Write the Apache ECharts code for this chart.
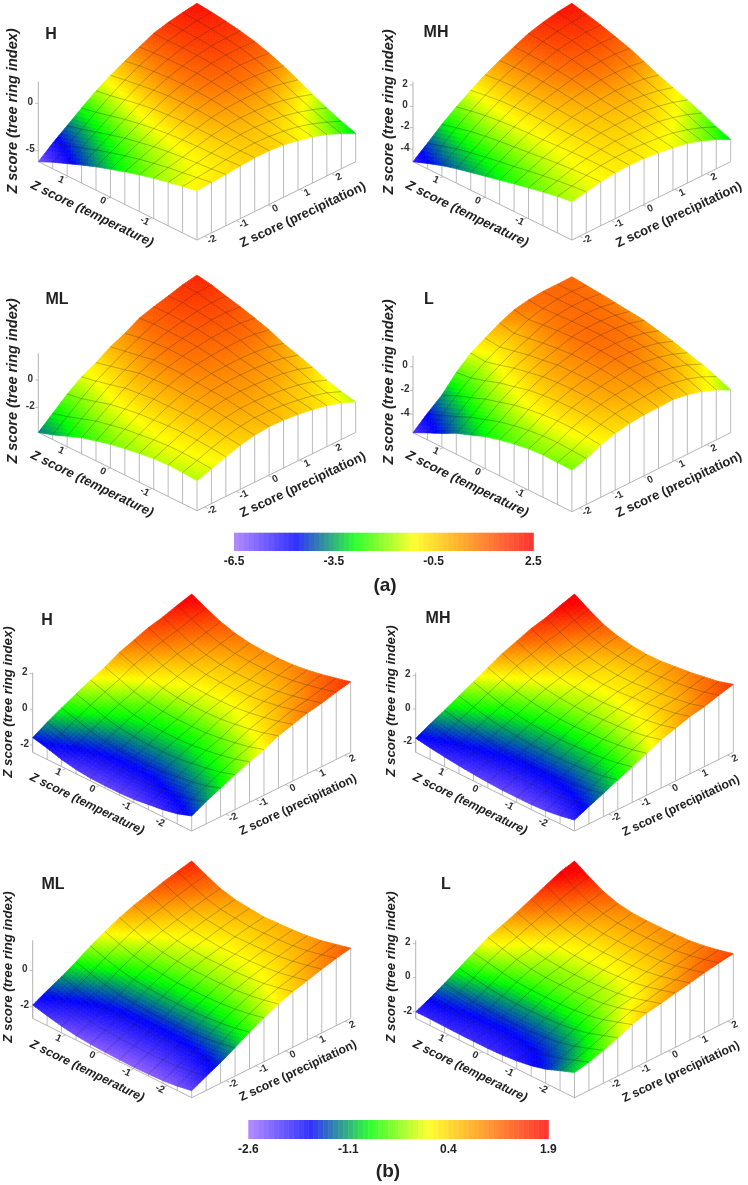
<!DOCTYPE html>
<html><head><meta charset="utf-8">
<style>html,body{margin:0;padding:0;background:#fff}#c{width:748px;height:1185px}</style>
<script src="https://cdn.jsdelivr.net/npm/echarts@6/dist/echarts.min.js"></script>
</head><body><div id="c"></div>
<script>
// Surface heights. Row = temperature step (front -> back), column = precipitation step (front -> right).
const zA_H=[
[-0.95,-0.84,-0.74,-0.60,-0.49,-0.49,-0.63,-0.91,-1.27,-1.79,-2.43,-3.17],
[-1.27,-1.08,-0.91,-0.69,-0.50,-0.42,-0.49,-0.69,-0.97,-1.41,-1.98,-2.64],
[-1.58,-1.31,-1.04,-0.74,-0.47,-0.30,-0.28,-0.39,-0.59,-0.95,-1.42,-2.00],
[-1.90,-1.53,-1.18,-0.78,-0.41,-0.16,-0.04,-0.07,-0.17,-0.43,-0.82,-1.30],
[-2.29,-1.82,-1.36,-0.85,-0.38,-0.02,0.20,0.28,0.28,0.13,-0.15,-0.53],
[-2.71,-2.14,-1.57,-0.97,-0.39,0.07,0.40,0.58,0.69,0.63,0.46,0.18],
[-3.20,-2.53,-1.86,-1.16,-0.49,0.08,0.50,0.79,0.99,1.03,0.96,0.78],
[-3.70,-2.94,-2.18,-1.39,-0.63,0.03,0.54,0.92,1.21,1.34,1.36,1.27],
[-4.26,-3.41,-2.58,-1.70,-0.85,-0.12,0.48,0.93,1.31,1.53,1.62,1.62],
[-4.86,-3.93,-3.02,-2.06,-1.13,-0.32,0.36,0.89,1.35,1.65,1.82,1.90],
[-5.46,-4.46,-3.47,-2.44,-1.44,-0.55,0.20,0.81,1.34,1.71,1.96,2.11],
[-6.16,-4.95,-3.85,-2.75,-1.68,-0.80,-0.05,0.69,1.38,1.78,2.07,2.29]];
const zA_MH=[
[-1.60,-1.35,-1.07,-0.91,-0.85,-0.88,-1.03,-1.22,-1.47,-1.91,-2.44,-3.10],
[-1.78,-1.47,-1.13,-0.90,-0.78,-0.75,-0.84,-0.97,-1.16,-1.53,-2.00,-2.60],
[-2.03,-1.64,-1.22,-0.91,-0.71,-0.60,-0.61,-0.66,-0.77,-1.06,-1.45,-1.97],
[-2.31,-1.84,-1.34,-0.97,-0.69,-0.50,-0.43,-0.40,-0.43,-0.66,-0.97,-1.41],
[-2.60,-2.06,-1.49,-1.04,-0.69,-0.43,-0.29,-0.19,-0.15,-0.30,-0.54,-0.91],
[-2.91,-2.30,-1.65,-1.13,-0.71,-0.37,-0.16,0.01,0.13,0.05,-0.11,-0.41],
[-3.22,-2.52,-1.80,-1.19,-0.68,-0.27,0.03,0.28,0.48,0.49,0.40,0.19],
[-3.53,-2.75,-1.95,-1.26,-0.68,-0.18,0.19,0.53,0.80,0.89,0.89,0.75],
[-3.85,-3.01,-2.13,-1.38,-0.72,-0.16,0.29,0.69,1.04,1.19,1.26,1.19],
[-4.22,-3.30,-2.36,-1.53,-0.80,-0.16,0.35,0.83,1.25,1.48,1.61,1.62],
[-4.69,-3.70,-2.68,-1.77,-0.97,-0.26,0.33,0.88,1.38,1.68,1.89,1.97],
[-5.19,-4.12,-3.02,-2.05,-1.17,-0.38,0.29,0.92,1.49,1.86,2.15,2.31]];
const zA_ML=[
[-1.64,-1.29,-0.93,-0.61,-0.39,-0.29,-0.32,-0.44,-0.61,-0.83,-1.15,-1.59],
[-1.56,-1.20,-0.82,-0.49,-0.26,-0.15,-0.16,-0.27,-0.43,-0.64,-0.94,-1.37],
[-1.54,-1.15,-0.75,-0.39,-0.13,0.01,0.02,-0.06,-0.19,-0.37,-0.65,-1.05],
[-1.59,-1.16,-0.71,-0.31,-0.01,0.17,0.23,0.19,0.10,-0.04,-0.27,-0.63],
[-1.73,-1.25,-0.76,-0.32,0.03,0.26,0.36,0.37,0.33,0.23,0.04,-0.27],
[-1.90,-1.38,-0.84,-0.35,0.05,0.32,0.47,0.52,0.53,0.48,0.34,0.07],
[-2.10,-1.51,-0.92,-0.36,0.09,0.43,0.63,0.75,0.81,0.83,0.75,0.54],
[-2.37,-1.73,-1.08,-0.47,0.04,0.43,0.70,0.87,0.99,1.06,1.03,0.88],
[-2.66,-1.96,-1.26,-0.59,-0.03,0.42,0.73,0.96,1.13,1.26,1.29,1.19],
[-3.07,-2.31,-1.57,-0.87,-0.30,0.22,0.63,0.96,1.18,1.38,1.48,1.46],
[-3.49,-2.67,-1.88,-1.12,-0.55,0.02,0.50,0.97,1.22,1.50,1.70,1.75],
[-3.83,-2.95,-2.07,-1.32,-0.81,-0.17,0.29,0.88,1.19,1.46,1.75,1.95]];
const zA_L=[
[-2.06,-1.69,-1.16,-0.79,-0.54,-0.43,-0.40,-0.35,-0.55,-0.88,-1.35,-1.97],
[-2.03,-1.61,-1.04,-0.62,-0.33,-0.17,-0.10,0.00,-0.16,-0.44,-0.86,-1.44],
[-2.00,-1.55,-0.93,-0.48,-0.15,0.05,0.16,0.30,0.18,-0.07,-0.45,-0.99],
[-2.09,-1.60,-0.94,-0.45,-0.08,0.15,0.31,0.48,0.40,0.19,-0.15,-0.65],
[-2.28,-1.74,-1.03,-0.49,-0.07,0.22,0.42,0.65,0.62,0.46,0.17,-0.28],
[-2.54,-1.95,-1.19,-0.60,-0.13,0.20,0.46,0.73,0.75,0.64,0.40,0.00],
[-2.88,-2.23,-1.42,-0.77,-0.24,0.15,0.45,0.78,0.86,0.81,0.62,0.28],
[-3.35,-2.65,-1.78,-1.08,-0.49,-0.05,0.32,0.70,0.84,0.84,0.71,0.42],
[-3.81,-3.05,-2.13,-1.37,-0.73,-0.23,0.18,0.62,0.81,0.87,0.79,0.56],
[-4.43,-3.60,-2.61,-1.79,-1.08,-0.51,-0.02,0.49,0.75,0.87,0.86,0.70],
[-4.99,-4.10,-3.05,-2.16,-1.39,-0.76,-0.22,0.35,0.67,0.86,0.91,0.81],
[-5.58,-4.54,-3.61,-2.30,-1.27,-0.62,0.05,0.56,0.79,0.90,0.90,0.93]];
const zB_H=[
[-1.57,-1.16,-0.81,-0.46,-0.14,0.14,0.51,0.75,0.99,1.14,1.35,1.53],
[-1.85,-1.43,-1.08,-0.72,-0.39,-0.10,0.27,0.52,0.77,0.93,1.14,1.33],
[-2.02,-1.60,-1.25,-0.89,-0.57,-0.28,0.09,0.34,0.58,0.74,0.95,1.14],
[-2.13,-1.72,-1.37,-1.02,-0.70,-0.42,-0.04,0.20,0.44,0.59,0.80,0.99],
[-2.24,-1.83,-1.48,-1.13,-0.81,-0.53,-0.15,0.09,0.33,0.48,0.69,0.88],
[-2.28,-1.87,-1.52,-1.17,-0.85,-0.56,-0.19,0.05,0.30,0.45,0.66,0.85],
[-2.28,-1.87,-1.52,-1.17,-0.85,-0.56,-0.19,0.05,0.30,0.45,0.66,0.85],
[-2.26,-1.84,-1.49,-1.13,-0.81,-0.52,-0.15,0.10,0.34,0.50,0.71,0.90],
[-2.17,-1.75,-1.39,-1.03,-0.70,-0.41,-0.02,0.23,0.48,0.64,0.86,1.05],
[-2.02,-1.59,-1.22,-0.85,-0.51,-0.21,0.17,0.43,0.69,0.86,1.09,1.29],
[-1.78,-1.34,-0.96,-0.58,-0.23,0.08,0.48,0.75,1.02,1.20,1.44,1.65],
[-1.59,-1.13,-0.73,-0.34,0.03,0.36,0.78,1.07,1.36,1.55,1.81,2.04]];
const zB_MH=[
[-1.94,-1.56,-1.20,-0.82,-0.46,-0.08,0.30,0.56,0.84,1.00,1.26,1.48],
[-2.12,-1.75,-1.39,-1.02,-0.67,-0.30,0.08,0.33,0.60,0.75,1.01,1.22],
[-2.24,-1.87,-1.52,-1.15,-0.80,-0.43,-0.07,0.18,0.45,0.60,0.85,1.06],
[-2.30,-1.94,-1.60,-1.23,-0.89,-0.53,-0.17,0.07,0.33,0.48,0.72,0.92],
[-2.30,-1.95,-1.61,-1.26,-0.93,-0.58,-0.22,0.01,0.26,0.39,0.63,0.82],
[-2.30,-1.96,-1.63,-1.29,-0.97,-0.62,-0.28,-0.05,0.19,0.31,0.54,0.72],
[-2.26,-1.92,-1.60,-1.27,-0.95,-0.61,-0.27,-0.05,0.19,0.30,0.52,0.70],
[-2.20,-1.86,-1.54,-1.20,-0.88,-0.54,-0.20,0.02,0.26,0.38,0.60,0.78],
[-2.12,-1.77,-1.45,-1.10,-0.77,-0.42,-0.08,0.15,0.40,0.53,0.75,0.94],
[-2.02,-1.66,-1.31,-0.95,-0.61,-0.24,0.12,0.37,0.63,0.77,1.02,1.22],
[-1.90,-1.51,-1.13,-0.74,-0.36,0.03,0.43,0.70,1.00,1.17,1.45,1.68],
[-1.76,-1.33,-0.93,-0.50,-0.09,0.34,0.76,1.07,1.40,1.61,1.91,2.18]];
const zB_ML=[
[-2.26,-1.87,-1.50,-1.08,-0.62,-0.23,0.14,0.42,0.64,0.87,1.07,1.24],
[-2.41,-2.02,-1.66,-1.24,-0.79,-0.40,-0.04,0.24,0.45,0.68,0.87,1.04],
[-2.50,-2.12,-1.77,-1.36,-0.91,-0.54,-0.18,0.08,0.29,0.51,0.69,0.85],
[-2.54,-2.17,-1.82,-1.43,-0.99,-0.62,-0.27,-0.01,0.19,0.39,0.57,0.72],
[-2.56,-2.20,-1.85,-1.46,-1.03,-0.66,-0.32,-0.06,0.13,0.33,0.51,0.65],
[-2.54,-2.18,-1.84,-1.46,-1.03,-0.67,-0.33,-0.08,0.11,0.30,0.47,0.61],
[-2.52,-2.17,-1.83,-1.45,-1.03,-0.68,-0.34,-0.10,0.08,0.27,0.44,0.57],
[-2.48,-2.12,-1.79,-1.40,-0.97,-0.62,-0.28,-0.04,0.15,0.35,0.51,0.65],
[-2.41,-2.05,-1.71,-1.33,-0.90,-0.54,-0.20,0.05,0.24,0.43,0.60,0.74],
[-2.28,-1.92,-1.57,-1.18,-0.74,-0.38,-0.03,0.22,0.42,0.62,0.80,0.94],
[-2.11,-1.73,-1.37,-0.96,-0.51,-0.13,0.24,0.51,0.72,0.94,1.13,1.29],
[-1.91,-1.51,-1.14,-0.71,-0.24,0.16,0.53,0.82,1.05,1.29,1.49,1.67]];
const zB_L=[
[-0.91,-0.72,-0.46,-0.14,0.21,0.47,0.60,0.80,0.96,1.14,1.29,1.41],
[-1.23,-1.03,-0.76,-0.43,-0.07,0.20,0.34,0.55,0.72,0.91,1.07,1.20],
[-1.56,-1.35,-1.06,-0.72,-0.35,-0.06,0.09,0.32,0.50,0.70,0.88,1.02],
[-1.78,-1.56,-1.26,-0.91,-0.53,-0.24,-0.07,0.16,0.35,0.56,0.75,0.90],
[-1.92,-1.69,-1.39,-1.03,-0.64,-0.34,-0.16,0.08,0.28,0.50,0.69,0.85],
[-2.00,-1.76,-1.46,-1.09,-0.70,-0.39,-0.22,0.03,0.23,0.46,0.65,0.82],
[-2.04,-1.80,-1.49,-1.12,-0.72,-0.41,-0.24,0.01,0.22,0.45,0.65,0.82],
[-2.04,-1.80,-1.49,-1.12,-0.72,-0.41,-0.22,0.03,0.24,0.47,0.67,0.84],
[-2.04,-1.79,-1.46,-1.08,-0.67,-0.34,-0.15,0.12,0.34,0.58,0.80,0.98],
[-2.02,-1.74,-1.40,-0.99,-0.55,-0.20,0.01,0.30,0.55,0.82,1.05,1.26],
[-2.00,-1.68,-1.30,-0.85,-0.37,0.01,0.27,0.59,0.88,1.19,1.46,1.71],
[-2.00,-1.62,-1.17,-0.70,-0.22,0.25,0.55,0.88,1.24,1.61,1.98,2.20]];

const tempTicksA=[-1,0,1], tempTicksB=[-2,-1,0,1], precipTicks=[-2,-1,0,1,2];
const titleT='Z score (temperature)', titleP='Z score (precipitation)', titleZ='Z score (tree ring index)';
const barA={min:-6.5,max:2.5,interval:3,caption:'(a)'}, barB={min:-2.6,max:1.9,interval:1.5,caption:'(b)'};

const FF='"Liberation Sans",Arial,sans-serif';
const TA={tRange:[-2.08,1.72],pRange:[-2.24,2.76],tTicks:tempTicksA,fs:13.1,fzt:14.5,zScale:barA};
const TB={tRange:[-2.72,1.97],pRange:[-3.15,2.19],tTicks:tempTicksB,fs:12.2,fzt:13.3,zScale:barB};
const panels=[
{name:'H', set:TA,z:zA_H, zTicks:[-5,0],   x:[38.3,355.7],front:240,  rise:78.3,top:3.3,  zr:[-6.16,2.29],nameAt:[51,35],  zt:[13,111], tt:[92,214], pt:[303,215]},
{name:'MH',set:TA,z:zA_MH,zTicks:[-4,-2,0,2],x:[413,730.7],front:240, rise:78.3,top:3.3,  zr:[-5.19,2.31],nameAt:[436,33], zt:[389,112],tt:[467,214],pt:[679,215]},
{name:'ML',set:TA,z:zA_ML,zTicks:[-2,0],   x:[38.3,355.7],front:510.7,rise:78.3,top:275,  zr:[-3.83,1.95],nameAt:[57,300], zt:[13,381], tt:[92,484], pt:[303,485]},
{name:'L', set:TA,z:zA_L, zTicks:[-4,-2,0],x:[413,730.7], front:511.7,rise:79,  top:276.7,zr:[-5.58,0.93],nameAt:[429,300],zt:[389,382],tt:[467,484],pt:[679,485]},
{name:'H', set:TB,z:zB_H, zTicks:[-2,0,2], x:[32.7,350.7],front:831,  rise:78.7,top:594,  zr:[-2.41,2.04],nameAt:[47,621], zt:[8.5,702],tt:[87,804], pt:[298,805]},
{name:'MH',set:TB,z:zB_MH,zTicks:[-2,0,2], x:[415.7,733.3],front:831, rise:78.7,top:594,  zr:[-2.60,2.18],nameAt:[438,619],zt:[391,701],tt:[470,804],pt:[681,806]},
{name:'ML',set:TB,z:zB_ML,zTicks:[-2,0],   x:[32.7,350.7],front:1097.7,rise:79.3,top:861, zr:[-2.65,1.67],nameAt:[53,885], zt:[8.5,967],tt:[87,1071],pt:[298,1071]},
{name:'L', set:TB,z:zB_L, zTicks:[-2,0,2], x:[415.7,733.3],front:1097.7,rise:79.3,top:861,zr:[-2.39,2.20],nameAt:[446,885],zt:[391,967],tt:[470,1071],pt:[681,1072]}
];

const surfStops=[[0,[150,100,255]],[0.207,[0,0,255]],[0.405,[0,255,0]],[0.6,[255,255,0]],[0.8,[255,115,0]],[1,[255,0,0]]];
const barStops=[[0,[180,140,255]],[0.207,[50,50,255]],[0.405,[50,255,50]],[0.6,[255,255,50]],[1,[255,50,50]]];
function ramp(stops,t){
  t=Math.max(0,Math.min(1,t));
  for(let k=1;k<stops.length;k++){
    if(t<=stops[k][0]){
      const a=stops[k-1],b=stops[k],f=(t-a[0])/(b[0]-a[0]);
      return 'rgb('+[0,1,2].map(c=>Math.round(a[1][c]+(b[1][c]-a[1][c])*f)).join(',')+')';
    }
  }
  return 'rgb(255,0,0)';
}
const N=11, SUB=5, GRAY='#aaaaaa', INK='#222222';
const grids=[],xAxes=[],yAxes=[],series=[],graphics=[];

panels.forEach((p,pi)=>{
  const boxH=p.front-2*p.rise-p.top;
  const k=p.rise/boxH;
  grids.push({left:p.x[0],top:p.top,width:p.x[1]-p.x[0],height:p.front-p.top});
  xAxes.push({type:'value',gridIndex:pi,min:-1,max:1,show:false});
  yAxes.push({type:'value',gridIndex:pi,min:0,max:2*k+1,show:false});
  const proj=(i,j,z)=>[(j-i)/N,(i+j)/N*k+(z-p.zr[0])/(p.zr[1]-p.zr[0])];
  const zb=p.zr[0];
  const scale=p.set.zScale;
  const common={type:'custom',coordinateSystem:'cartesian2d',xAxisIndex:pi,yAxisIndex:pi,silent:true,clip:false,animation:false};
  const line=(pts,stroke,w)=>({type:'polyline',shape:{points:pts},style:{stroke,lineWidth:w,fill:null},silent:true});

  // walls, base edges and the z axis
  const wallItems=[];
  for(let n=0;n<=N;n++){wallItems.push([n,0]);if(n>0)wallItems.push([0,n]);}
  series.push(Object.assign({},common,{z:1,data:wallItems,
    renderItem:(params,api)=>{
      const [i,j]=wallItems[params.dataIndex];
      const kids=[line([api.coord(proj(i,j,zb)),api.coord(proj(i,j,p.z[i][j]))],GRAY,0.8)];
      if(params.dataIndex===0){
        kids.push(line([api.coord(proj(N,0,zb)),api.coord(proj(0,0,zb)),api.coord(proj(0,N,zb))],GRAY,0.9));
        kids.push(line([api.coord(proj(N,0,zb)),api.coord(proj(N,0,p.zr[1]))],GRAY,0.9));
      }
      return {type:'group',children:kids};
    }}));

  // colored surface, back cells first
  const cells=[];
  for(let i=N-1;i>=0;i--)for(let j=N-1;j>=0;j--)cells.push([i,j]);
  series.push(Object.assign({},common,{z:2,data:cells,
    renderItem:(params,api)=>{
      const [i,j]=cells[params.dataIndex], Z=p.z;
      const zAt=(u,v)=>(1-u)*(1-v)*Z[i][j]+u*(1-v)*Z[i+1][j]+(1-u)*v*Z[i][j+1]+u*v*Z[i+1][j+1];
      const kids=[];
      for(let a=0;a<SUB;a++)for(let b=0;b<SUB;b++){
        const u0=a/SUB,u1=(a+1)/SUB,v0=b/SUB,v1=(b+1)/SUB;
        const P=(u,v)=>api.coord(proj(i+u,j+v,zAt(u,v)));
        const c=ramp(surfStops,(zAt((u0+u1)/2,(v0+v1)/2)-scale.min)/(scale.max-scale.min));
        kids.push({type:'polygon',shape:{points:[P(u0,v0),P(u1,v0),P(u1,v1),P(u0,v1)]},style:{fill:c,stroke:c,lineWidth:0.7},silent:true});
      }
      return {type:'group',children:kids};
    }}));

  // mesh lines
  const meshItems=[];
  for(let n=1;n<N;n++){meshItems.push(['i',n]);meshItems.push(['j',n]);}
  series.push(Object.assign({},common,{z:3,data:meshItems.map((m,q)=>[q,m[1]]),
    renderItem:(params,api)=>{
      const [kind,n]=meshItems[params.dataIndex],pts=[];
      for(let m=0;m<=N;m++)pts.push(kind==='i'?api.coord(proj(n,m,p.z[n][m])):api.coord(proj(m,n,p.z[m][n])));
      return line(pts,'rgba(30,30,30,0.48)',0.6);
    }}));

  // ticks and tick labels
  const [t0,t1]=p.set.tRange,[p0,p1]=p.set.pRange;
  const tickItems=[...p.set.tTicks.map(v=>['t',v]),...precipTicks.map(v=>['p',v]),...p.zTicks.map(v=>['z',v])];
  const tickFont='bold 10px '+FF;
  const label=(text,xy,rot)=>({type:'text',x:xy[0],y:xy[1],rotation:rot,silent:true,
    style:{text:String(text),font:tickFont,fill:'#333',align:'center',verticalAlign:'middle',textAlign:'center',textVerticalAlign:'middle'}});
  series.push(Object.assign({},common,{z:4,data:tickItems.map((m,q)=>[q,m[1]]),
    renderItem:(params,api)=>{
      const [kind,v]=tickItems[params.dataIndex];
      if(kind==='t'){
        const i=(v-t0)/(t1-t0)*N;
        return {type:'group',children:[
          line([api.coord(proj(i,0,zb)),api.coord(proj(i,-0.22,zb))],GRAY,0.8),
          label(v,api.coord(proj(i,-0.5,zb)),-0.45)]};
      }
      if(kind==='p'){
        const j=(v-p0)/(p1-p0)*N;
        return {type:'group',children:[
          line([api.coord(proj(0,j,zb)),api.coord(proj(-0.22,j,zb))],GRAY,0.8),
          label(v,api.coord(proj(-0.5,j,zb)),0.45)]};
      }
      const o=api.coord(proj(N,0,v));
      return {type:'group',children:[
        line([o,[o[0]-3,o[1]]],GRAY,0.8),
        label(v,[o[0]-8,o[1]-1],0)]};
    }}));

  const txt=(text,at,font,rot)=>({type:'text',x:at[0],y:at[1],rotation:rot,silent:true,
    style:{text,font,fill:INK,align:'center',verticalAlign:'middle',textAlign:'center',textVerticalAlign:'middle'}});
  graphics.push(txt(p.name,p.nameAt,'bold 16px '+FF,0));
  graphics.push(txt(titleZ,p.zt,'italic bold '+p.set.fzt+'px '+FF,Math.PI/2));
  graphics.push(txt(titleT,p.tt,'italic bold '+p.set.fs+'px '+FF,-0.455));
  graphics.push(txt(titleP,p.pt,'bold '+p.set.fs+'px '+FF,0.44));
});

// colour bars
[[barA,234,533.3,532.7,551,[385,586]],[barB,248.3,548.3,1120,1139,[388,1172]]].forEach(([b,l,r,t,bt,cap])=>{
  const gi=grids.length, bands=[], nB=60;
  for(let q=0;q<nB;q++)bands.push(q);
  grids.push({left:l,top:t,width:r-l,height:bt-t});
  xAxes.push({type:'value',gridIndex:gi,min:b.min,max:b.max,interval:b.interval,
    axisLine:{show:false},axisTick:{show:false},splitLine:{show:false},
    axisLabel:{show:true,showMinLabel:true,showMaxLabel:true,margin:5,color:INK,fontFamily:FF,fontWeight:'bold',fontSize:12,formatter:v=>Number(v).toFixed(1)}});
  yAxes.push({type:'value',gridIndex:gi,min:0,max:1,show:false});
  series.push({type:'custom',coordinateSystem:'cartesian2d',xAxisIndex:gi,yAxisIndex:gi,silent:true,animation:false,
    data:bands.map(q=>[b.min+(q+0.5)*(b.max-b.min)/nB,0.5]),
    renderItem:(params,api)=>{
      const q=params.dataIndex,w=(b.max-b.min)/nB;
      const a=api.coord([b.min+q*w,1]),c=api.coord([b.min+(q+1)*w,0]);
      const col=ramp(barStops,(q+0.5)/nB);
      return {type:'rect',shape:{x:a[0],y:a[1],width:c[0]-a[0]+0.5,height:c[1]-a[1]},style:{fill:col},silent:true};
    }});
  graphics.push({type:'text',x:cap[0],y:cap[1],silent:true,
    style:{text:b.caption,font:'bold 19px '+FF,fill:INK,align:'center',verticalAlign:'middle',textAlign:'center',textVerticalAlign:'middle'}});
});

const chart=echarts.init(document.getElementById('c'),null,{renderer:'canvas',width:748,height:1185});
chart.setOption({animation:false,backgroundColor:'#fff',grid:grids,xAxis:xAxes,yAxis:yAxes,series,graphic:{elements:graphics}});
</script></body></html>
